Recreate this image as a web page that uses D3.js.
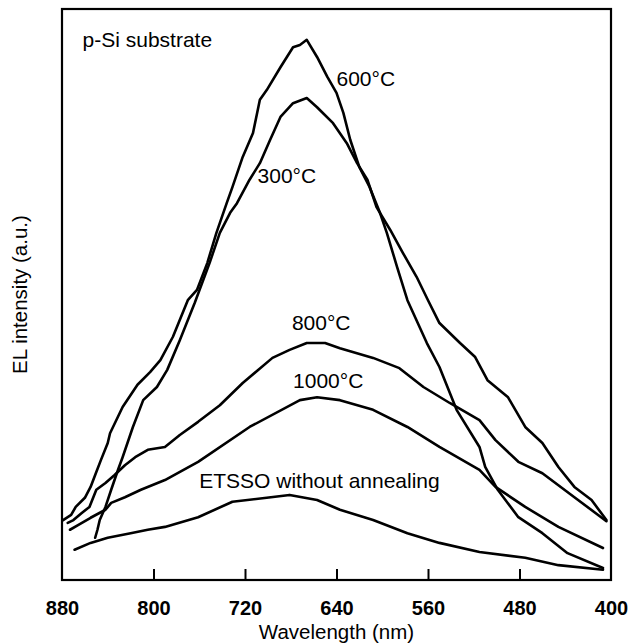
<!DOCTYPE html>
<html>
<head>
<meta charset="utf-8">
<script src="https://cdn.jsdelivr.net/npm/d3@7"></script>
<style>
  body { margin: 0; background: #fff; }
  text { font-family: "Liberation Sans", Arial, sans-serif; fill: #000; }
</style>
</head>
<body>
<script>
// data (wavelength in nm, EL intensity in arbitrary units)
const xTicks = [880, 800, 720, 640, 560, 480, 400];

const wl600 = [879, 872, 868, 860, 855, 850, 846, 840, 838, 827, 814, 803, 794, 783, 770, 762, 753, 745, 736, 731, 722, 713, 707, 701, 689, 678, 672, 666, 657, 648, 640, 634, 628, 620, 611, 602, 596, 587, 578, 561, 550, 535, 515, 510, 499, 481, 460, 438, 407];
const int600 = [10.5, 11.4, 12.8, 14.4, 16.3, 18.9, 21.0, 24.0, 25.7, 30.3, 34.2, 36.4, 38.5, 42.6, 49.0, 50.8, 55.5, 60.8, 66.0, 68.8, 74.1, 78.3, 84.1, 85.8, 89.8, 93.3, 93.7, 94.6, 91.6, 88.1, 85.3, 81.8, 77.1, 72.3, 68.8, 64.3, 60.8, 54.8, 49.0, 41.5, 37.3, 29.8, 23.3, 19.8, 15.8, 11.0, 8.2, 4.7, 2.1];

const wl300 = [851, 849, 847, 842, 837, 831, 827, 818, 809, 797, 788, 777, 764, 751, 742, 733, 727, 716, 707, 698, 689, 678, 666, 657, 643, 631, 622, 613, 605, 593, 582, 570, 560, 550, 532, 519, 508, 490, 475, 460, 446, 432, 417, 404];
const int300 = [7.4, 8.8, 10.5, 12.8, 15.8, 19.3, 21.5, 26.8, 31.5, 33.8, 36.8, 42.0, 48.5, 55.5, 60.8, 64.3, 66.0, 70.1, 73.0, 77.1, 81.1, 83.5, 84.4, 82.8, 80.0, 76.5, 73.0, 70.1, 65.3, 61.3, 57.3, 53.1, 49.0, 45.0, 41.5, 39.1, 35.0, 32.0, 26.8, 24.0, 19.8, 16.3, 14.0, 10.5];

const wl800 = [875, 870, 863, 856, 850, 842, 834, 825, 816, 805, 790, 777, 761, 742, 722, 696, 681, 666, 650, 637, 608, 585, 564, 541, 515, 501, 481, 460, 432, 404];
const int800 = [10.0, 10.5, 11.7, 12.8, 15.8, 17.0, 18.4, 20.1, 21.5, 22.8, 23.3, 25.4, 27.7, 30.6, 34.5, 38.9, 40.3, 41.5, 41.5, 40.6, 38.9, 37.1, 33.8, 31.0, 28.0, 24.5, 20.7, 18.7, 14.5, 10.3];

const wl1000 = [873, 866, 855, 842, 837, 825, 811, 790, 761, 716, 672, 657, 637, 608, 578, 550, 515, 501, 475, 446, 407];
const int1000 = [8.8, 9.6, 10.9, 12.3, 13.5, 14.5, 15.8, 17.5, 20.7, 26.8, 31.5, 32.0, 31.5, 29.8, 26.8, 23.3, 19.3, 16.3, 12.8, 9.3, 5.6];

const wlRaw = [869, 855, 840, 820, 805, 790, 761, 731, 701, 681, 657, 637, 608, 578, 550, 515, 475, 446, 407];
const intRaw = [5.3, 6.5, 7.4, 8.2, 8.8, 9.3, 11.0, 13.7, 14.4, 14.9, 14.0, 12.3, 10.5, 8.2, 6.5, 4.9, 3.9, 2.6, 1.8];

const series = [
    {name: "600", wl: wl600, val: int600},
    {name: "300", wl: wl300, val: int300},
    {name: "800", wl: wl800, val: int800},
    {name: "1000", wl: wl1000, val: int1000},
    {name: "raw", wl: wlRaw, val: intRaw}
];

const labels = [
    {text: "p-Si substrate", wl: 862, v: 93.3},
    {text: "600\u00B0C", wl: 640, v: 86.5},
    {text: "300\u00B0C", wl: 709, v: 69.5},
    {text: "800\u00B0C", wl: 679, v: 43.8},
    {text: "1000\u00B0C", wl: 678, v: 33.6},
    {text: "ETSSO without annealing", wl: 760, v: 16.1}
];

// layout
const W = 628, H = 644;
const margin = {top: 9, right: 17, bottom: 64, left: 62};
const width = W - margin.left - margin.right;
const height = H - margin.top - margin.bottom;

const svg = d3.select("body").append("svg")
    .attr("width", W)
    .attr("height", H);

const g = svg.append("g")
    .attr("transform", "translate(" + margin.left + "," + margin.top + ")");

// scales (wavelength runs right to left)
const xScale = d3.scaleLinear().domain([880, 400]).range([0, width]);
const yScale = d3.scaleLinear().domain([0, 100]).range([height, 0]);

// curves
const line = d3.line()
    .x(function(d) { return xScale(d[0]); })
    .y(function(d) { return yScale(d[1]); })
    .curve(d3.curveLinear);

series.forEach(function(s) {
    const pts = s.wl.map(function(w, i) { return [w, s.val[i]]; });
    g.append("path")
        .datum(pts)
        .attr("fill", "none")
        .attr("stroke", "#000")
        .attr("stroke-width", 2.6)
        .attr("stroke-linejoin", "round")
        .attr("stroke-linecap", "round")
        .attr("d", line);
});

// x axis: inward ticks, bold labels below
const xAxis = d3.axisBottom(xScale)
    .tickValues(xTicks)
    .tickSize(-11)
    .tickPadding(21)
    .tickFormat(d3.format("d"));

const xg = g.append("g")
    .attr("transform", "translate(0," + height + ")")
    .call(xAxis);
xg.select(".domain").remove();
xg.selectAll(".tick line")
    .attr("stroke", "#000")
    .attr("stroke-width", 2)
    .style("display", function(d) { return (d === 880 || d === 400) ? "none" : null; });
xg.selectAll(".tick text")
    .attr("font-size", "20px")
    .attr("font-weight", "bold")
    .style("font-family", "'Liberation Sans', Arial, sans-serif")
    .attr("fill", "#000");

// frame
g.append("rect")
    .attr("x", 0)
    .attr("y", 0)
    .attr("width", width)
    .attr("height", height)
    .attr("fill", "none")
    .attr("stroke", "#000")
    .attr("stroke-width", 2.2);

// axis titles
svg.append("text")
    .attr("x", margin.left + width / 2)
    .attr("y", 639)
    .attr("text-anchor", "middle")
    .attr("font-size", "20.5px")
    .text("Wavelength (nm)");

svg.append("text")
    .attr("transform", "translate(27," + (margin.top + height / 2) + ")rotate(-90)")
    .attr("text-anchor", "middle")
    .attr("font-size", "20.5px")
    .text("EL intensity (a.u.)");

// in-plot labels
g.selectAll(".curve-label")
    .data(labels)
    .enter()
    .append("text")
    .attr("class", "curve-label")
    .attr("x", function(d) { return xScale(d.wl); })
    .attr("y", function(d) { return yScale(d.v); })
    .attr("font-size", "21px")
    .text(function(d) { return d.text; });
</script>
</body>
</html>
